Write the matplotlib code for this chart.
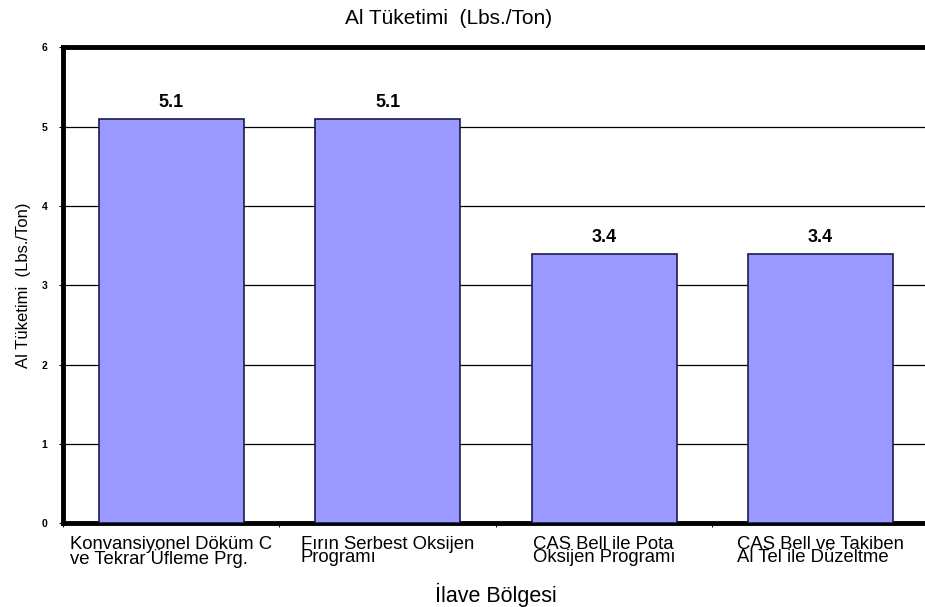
import matplotlib.pyplot as plt
import numpy as np

plt.rcParams['font.family'] = ['Liberation Sans', 'DejaVu Sans']

# Al consumption per addition zone
categories = ['Konvansiyonel Döküm C\nve Tekrar Üfleme Prg.',
              'Fırın Serbest Oksijen\nProgramı',
              'CAS Bell ile Pota\nOksijen Programı',
              'CAS Bell ve Takiben\nAl Tel ile Düzeltme']
values = [5.1, 5.1, 3.4, 3.4]
yticks = [0, 1, 2, 3, 4, 5, 6]

fig = plt.figure(figsize=(9.25, 6.07), dpi=100)
ax = fig.add_axes([0.068, 0.138, 0.936, 0.784])

x = np.arange(len(categories))
bars = ax.bar(x, values, width=0.67, color='#9999FF', edgecolor='#1a1a4d',
              linewidth=1.2, zorder=3)

for b, v in zip(bars, values):
    ax.text(b.get_x() + b.get_width() / 2, v + 0.1, f'{v:.1f}',
            ha='center', va='bottom', fontsize=13, fontweight='bold')

ax.set_xlim(-0.5, len(categories) - 0.5)
ax.set_ylim(0, 6)
ax.set_yticks(yticks)
ax.set_yticklabels([str(t) for t in yticks], fontsize=7.5, fontweight='bold')
ax.set_xticks(np.arange(len(categories) + 1) - 0.5, minor=True)
ax.set_xticks(x)
ax.set_xticklabels(categories, fontsize=13.3, multialignment='left',
                   linespacing=0.72)
ax.tick_params(axis='x', which='major', length=0, pad=9)
ax.tick_params(axis='x', which='minor', length=3, width=0.8)
ax.tick_params(axis='y', length=3, width=0.8, pad=8)

for yv in yticks[1:-1]:
    ax.axhline(yv, color='black', linewidth=0.9, zorder=1)

for side in ['top', 'left', 'bottom']:
    ax.spines[side].set_linewidth(3.5)
ax.spines['right'].set_visible(False)

ax.set_xlabel('İlave Bölgesi', fontsize=15.5, labelpad=11)
ax.set_ylabel('Al Tüketimi  (Lbs./Ton)', fontsize=12, labelpad=8)
fig.text(0.485, 0.97, 'Al Tüketimi  (Lbs./Ton)', ha='center', va='center',
         fontsize=15)

fig.savefig('out.png', dpi=100)
